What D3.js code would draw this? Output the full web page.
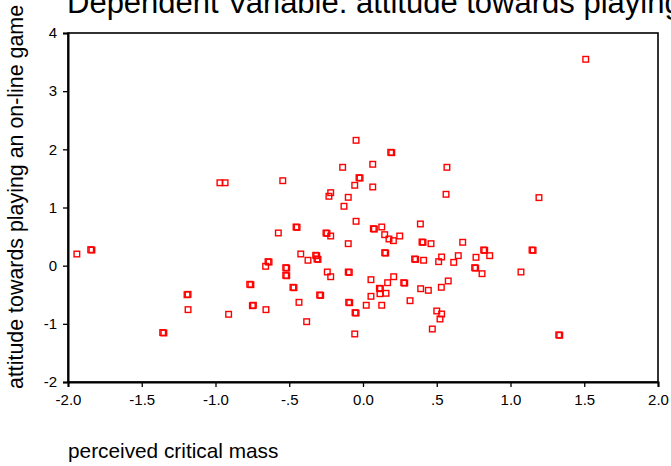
<!DOCTYPE html>
<html>
<head>
<meta charset="utf-8">
<script src="https://cdn.jsdelivr.net/npm/d3@7"></script>
<style>
  html, body { margin: 0; padding: 0; background: #fff; }
  svg { display: block; font-family: "Liberation Sans", Arial, sans-serif; }
</style>
</head>
<body>
<svg id="chart" width="671" height="466"></svg>
<script>
// ---- data ----
const titleText = "Dependent Variable: attitude towards playing an on-line game";
const xLabel = "perceived critical mass";
const yLabel = "attitude towards playing an on-line game";

const xTicks = [-2, -1.5, -1, -0.5, 0, 0.5, 1, 1.5, 2];
const xTickLabels = ["-2.0", "-1.5", "-1.0", "-.5", "0.0", ".5", "1.0", "1.5", "2.0"];
const yTicks = [-2, -1, 0, 1, 2, 3, 4];
const yTickLabels = ["-2", "-1", "0", "1", "2", "3", "4"];

const pcm = [
  -1.940, -1.846, -1.838, -1.193, -1.186, -1.186, -1.358, -1.350, -0.911,
  -0.768, -0.760, -0.750, -0.743, -0.970, -0.935,
  -0.047, 0.188, 0.195, -0.138, 0.066, 0.569, -0.544, -0.027, -0.020,
  -0.056, 0.066, -0.219, -0.231, -0.100, 0.563, -0.129,
  -0.047, -0.574, -0.454, -0.447, -0.251, -0.244, -0.219, 0.070, 0.077,
  0.127, 0.147, 0.176, 0.206, 0.249, 0.389, 0.400, 0.407, 0.461, -0.100,
  0.147, 0.154, -0.422, -0.373, -0.321, -0.314, -0.312, -0.305,
  -0.644, -0.637, -0.660, -0.524, -0.517, -0.524, -0.517, -0.242, -0.219,
  -0.100, -0.093, 0.350, 0.357, 0.411, 0.533, 0.513,
  -0.475, -0.468, -0.294, -0.287, -0.434, -0.658, -0.382, -0.097, -0.090,
  -0.054, -0.047, -0.056, 0.054, 0.111, 0.118, 0.115, 0.156, 0.167, 0.208,
  0.276, 0.283, 0.054, 0.022, 0.127, 0.319, 0.391, 0.443, 0.531, 0.578,
  0.500, 0.533, 0.522, 0.470,
  1.510, 1.193, 0.676, 0.818, 0.825, 1.146, 1.153, 0.646, 0.766, 0.859,
  0.615, 0.757, 0.764, 0.807, 1.071, 1.327, 1.334
];
const attitude = [
  0.200, 0.275, 0.268, -0.500, -0.493, -0.756, -1.150, -1.157, -0.836,
  -0.320, -0.327, -0.688, -0.681, 1.425, 1.425,
  2.155, 1.949, 1.942, 1.691, 1.743, 1.691, 1.461, 1.513, 1.506,
  1.382, 1.353, 1.255, 1.193, 1.175, 1.227, 1.021,
  0.763, 0.562, 0.665, 0.658, 0.562, 0.555, 0.510, 0.636, 0.629,
  0.665, 0.533, 0.459, 0.430, 0.510, 0.717, 0.407, 0.400, 0.378, 0.378,
  0.223, 0.216, 0.201, 0.093, 0.178, 0.171, 0.115, 0.108,
  0.069, 0.062, -0.011, -0.035, -0.042, -0.166, -0.173, -0.109, -0.190,
  -0.109, -0.116, 0.115, 0.108, 0.093, 0.149, 0.069,
  -0.372, -0.379, -0.504, -0.511, -0.630, -0.756, -0.963, -0.630, -0.637,
  -0.808, -0.815, -1.174, -0.241, -0.389, -0.396, -0.482, -0.475, -0.293, -0.190,
  -0.293, -0.300, -0.527, -0.681, -0.681, -0.602, -0.396, -0.424, -0.372, -0.263,
  -0.779, -0.831, -0.917, -1.089,
  3.548, 1.170, 0.402, 0.270, 0.263, 0.270, 0.263, 0.172, 0.144, 0.172,
  0.057, -0.035, -0.042, -0.138, -0.109, -1.190, -1.197
];

// ---- drawing ----
const svg = d3.select("#chart");
const W = 671, H = 466;
const margin = { left: 68, right: 13, top: 33, bottom: 84 };

const x = d3.scaleLinear().domain([-2, 2]).range([margin.left, W - margin.right]);
const y = d3.scaleLinear().domain([-2, 4]).range([H - margin.bottom, margin.top]);

// title (runs past the page edges, as in the reference)
svg.append("text")
  .attr("x", margin.left - 1)
  .attr("y", 13)
  .attr("font-size", 31)
  .attr("fill", "#000")
  .text(titleText);

// frame
svg.append("rect")
  .attr("x", x(-2)).attr("y", y(4))
  .attr("width", x(2) - x(-2)).attr("height", y(-2) - y(4))
  .attr("fill", "none").attr("stroke", "#000").attr("stroke-width", 1.6);

// axes
const xAxis = d3.axisBottom(x)
  .tickValues(xTicks)
  .tickFormat((d, i) => xTickLabels[i])
  .tickSize(5).tickPadding(7);
const yAxis = d3.axisLeft(y)
  .tickValues(yTicks)
  .tickFormat((d, i) => yTickLabels[i])
  .tickSize(5).tickPadding(6);

const gx = svg.append("g").attr("transform", `translate(0,${y(-2)})`).call(xAxis);
const gy = svg.append("g").attr("transform", `translate(${x(-2)},0)`).call(yAxis);
[gx, gy].forEach(g => {
  g.select(".domain").attr("stroke", "#000").attr("stroke-width", 2);
  g.selectAll(".tick line").attr("stroke", "#000").attr("stroke-width", 1.3);
  g.selectAll(".tick text").attr("fill", "#000")
    .attr("font-size", 15).attr("font-family", "Liberation Sans, Arial, sans-serif");
});

// axis titles
svg.append("text")
  .attr("x", margin.left)
  .attr("y", 458)
  .attr("font-size", 20.8)
  .attr("fill", "#000")
  .text(xLabel);

svg.append("text")
  .attr("transform", `translate(23,389) rotate(-90)`)
  .attr("font-size", 21.4)
  .attr("fill", "#000")
  .text(yLabel);

// points
const pts = pcm.map((v, i) => ({ x: v, y: attitude[i] }));
const s = 5.6;
svg.append("g").selectAll("rect")
  .data(pts)
  .join("rect")
  .attr("x", d => x(d.x) - s / 2)
  .attr("y", d => y(d.y) - s / 2)
  .attr("width", s).attr("height", s)
  .attr("fill", "none")
  .attr("stroke", "#ff0000")
  .attr("stroke-width", 1.4);
</script>
</body>
</html>
